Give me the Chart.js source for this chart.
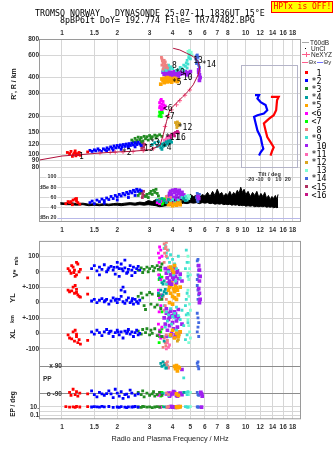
<!DOCTYPE html>
<html>
<head>
<meta charset="utf-8">
<script src="https://cdn.jsdelivr.net/npm/chart.js@4.4.1/dist/chart.umd.min.js"></script>
<style>
  body { margin:0; width:335px; height:451px; background:#fff; position:relative; overflow:hidden; }
  canvas { position:absolute; }
  .t { position:absolute; white-space:pre; line-height:1; transform:translate(0,-50%); color:#000; font-family:'Liberation Sans', sans-serif; }
  .mono { font-family:'DejaVu Sans Mono', monospace; }
  .rot { transform:translate(-50%,-50%) rotate(-90deg); font-weight:bold; color:#222; }
</style>
</head>
<body>
<canvas id="main" width="335" height="240" style="left:0px;top:0px"></canvas>
<canvas id="lower" width="335" height="219" style="left:0px;top:232px"></canvas>
<canvas id="tilt" width="75" height="127" style="left:230px;top:58px"></canvas>
<div class="t mono" style="left:35px;top:12.5px;font-size:8.3px">TROMSO NORWAY   DYNASONDE 25-07-11 1836UT 15°E</div>
<div class="t mono" style="left:60px;top:20.3px;font-size:8.3px">8pBP6It DoY= 192.774 File= TR747482.BPG</div>
<div style="position:absolute;left:271px;top:1px;width:60px;height:10px;background:#ffff00;border:1px solid #ff0000;"></div>
<div class="t mono" style="left:273.5px;top:7px;font-size:8px;color:#ff0000">HPTx is OFF!</div>
<script>
// axes
const freqTicks    = [1, 1.5, 2, 3, 4, 5, 6, 7, 8, 10, 12, 14, 16, 18];
const freqTicksMid = [1, 1.5, 2, 3, 4, 5, 6, 7, 8, 9, 10, 12, 14, 16, 18];
const heightTicks  = [80, 90, 100, 120, 150, 200, 300, 400, 600, 800];
const dbTicks      = [20, 40, 60, 80, 100];
const tiltTicks    = [-20, -10, 0, 10, 20];

// echo classes
const classNames  = [' 1','*2','*3','*4','*5','<6','<7',' 8','*9',' 10','*11','*12',' 13','*14','<15','<16'];
const classColors = ['#ff0000','#0000ff','#228b22','#00a0a0','#ffa500','#ff00ff','#00ff00','#f08080',
                     '#40e0d0','#a020f0','#ff69b4','#daa520','#7fffd4','#4169e1','#b03060','#c71585'];

// virtual range R' (MHz, km), one list per class: f, h, f, h ...
const heightPts = [
  [1.07,104, 1.1,102, 1.12,106, 1.15,100, 1.17,103, 1.19,98, 1.2,102, 1.22,100, 1.24,104, 1.26,99, 1.18,107, 1.14,97, 1.38,105],
  [1.42,108, 1.46,106, 1.5,109, 1.53,107, 1.57,111, 1.6,108, 1.64,106, 1.68,111, 1.72,109, 1.76,113, 1.8,110, 1.84,115, 1.88,112,
   1.92,117, 1.96,113, 2.0,118, 2.04,114, 2.08,119, 2.12,115, 2.16,120, 2.2,116, 2.24,121, 2.28,117, 2.32,122, 2.36,118, 2.4,123,
   2.45,119, 2.5,124, 2.55,120, 2.6,125, 2.65,121, 2.3,113, 2.5,115, 2.1,110, 1.9,108, 2.7,118, 1.75,107],
  [2.4,130, 2.45,126, 2.5,134, 2.55,129, 2.6,137, 2.65,131, 2.7,136, 2.75,128, 2.8,139, 2.85,133, 2.9,138, 2.95,130, 3.0,141,
   3.05,134, 3.1,138, 3.2,142, 3.25,135, 3.3,140, 3.4,143, 3.5,139, 2.55,123, 2.7,125],
  [3.1,120, 3.2,124, 3.3,116, 3.4,118, 3.45,113, 3.5,121, 3.55,116, 3.6,123, 3.65,118, 3.7,126, 3.75,121, 3.8,128, 3.85,123, 3.9,129, 3.5,110, 3.95,125, 3.35,126],
  [3.5,390, 3.55,380, 3.6,395, 3.65,375, 3.7,390, 3.75,370, 3.8,385, 3.85,395, 3.9,375, 4.0,390, 4.05,380, 4.1,395, 4.15,378, 4.2,388, 4.3,383, 3.75,400, 3.6,365, 3.45,355, 3.95,368, 4.25,372],
  [3.4,255, 3.45,265, 3.5,248, 3.55,260, 3.42,240, 3.5,235, 3.58,245, 3.62,232, 3.48,225, 3.55,228, 3.65,240, 3.4,232, 3.47,270],
  [3.4,215, 3.45,210, 3.5,220, 3.42,205, 3.52,212, 3.38,200, 3.47,198],
  [3.5,560, 3.52,540, 3.55,520, 3.5,500, 3.6,545, 3.62,510, 3.58,490, 3.68,480, 3.7,500, 3.75,475, 3.55,465, 3.65,530, 3.48,575],
  [3.6,470, 3.65,490, 3.7,455, 3.75,480, 3.8,500, 3.85,465, 3.9,485, 4.3,460, 4.4,480, 4.5,470, 4.6,500, 4.7,490, 4.75,520, 4.8,545,
   4.85,510, 4.9,570, 4.95,600, 5.0,560, 4.8,475, 4.6,455, 3.55,455, 4.2,455, 4.0,470],
  [3.55,440, 3.6,425, 3.65,450, 3.7,430, 3.75,415, 3.8,445, 3.85,425, 3.9,440, 3.95,420, 4.0,435, 4.05,415, 4.1,445, 4.15,425, 4.2,440,
   4.25,420, 4.3,435, 4.4,425, 4.5,440, 4.6,430, 4.7,445, 4.8,420, 4.9,435, 5.0,445, 3.7,405, 3.9,410, 4.1,405, 4.3,410, 3.6,465,
   3.8,470, 5.55,440, 5.6,420, 5.65,400, 5.6,380, 5.55,460],
  [3.6,130, 3.65,127, 3.7,133, 3.75,129, 3.8,134, 3.7,124],
  [4.15,178, 4.2,172, 4.25,180, 4.3,168, 4.35,175, 4.22,163],
  [4.85,640, 4.9,620, 4.95,650, 5.0,610, 5.05,630, 5.1,600, 4.9,590],
  [5.35,560, 5.4,590, 5.45,540, 5.5,575, 5.5,520, 5.55,500, 5.6,480, 5.45,600, 5.4,515],
  [2.7,118, 2.72,112, 2.75,122, 2.78,115, 2.8,109, 2.82,120, 2.76,126],
  [3.75,137, 3.85,140, 3.95,143, 4.05,146, 4.15,149, 4.25,152, 3.9,136, 4.1,140, 4.3,148]
];

// echo amplitude dBe
const ampPts = [
  [1.05,48, 1.1,50, 1.12,52, 1.15,55, 1.18,57, 1.2,53, 1.22,50, 1.25,47, 1.14,46, 1.08,52, 1.2,58],
  [1.42,50, 1.46,53, 1.5,48, 1.55,55, 1.6,52, 1.65,57, 1.7,54, 1.75,59, 1.8,56, 1.85,62, 1.9,58, 1.95,64, 2.0,61, 2.05,66, 2.1,63,
   2.15,68, 2.2,65, 2.25,70, 2.3,67, 2.35,72, 2.4,69, 2.45,74, 2.5,71, 2.55,76, 2.6,72, 2.65,75, 2.7,73, 1.7,49, 2.0,55, 2.3,60, 2.5,64],
  [2.85,62, 2.9,66, 2.95,60, 3.0,68, 3.05,72, 3.1,66, 3.15,74, 3.2,70, 3.25,76, 3.3,68, 3.35,63, 2.6,64, 2.65,68],
  [3.3,55, 3.4,52, 3.5,58, 3.6,54, 3.7,50, 3.8,56, 4.6,58, 4.7,54],
  [3.8,46, 3.9,48, 4.0,44, 4.1,47, 4.2,45, 4.3,49, 4.4,46],
  [3.3,50, 3.35,54, 3.4,48, 3.45,52],
  [3.4,56, 3.45,52, 3.5,54, 3.55,50, 3.6,57, 3.52,47],
  [3.7,62, 3.75,58, 3.8,55, 3.9,60],
  [3.9,52, 4.0,56, 4.1,50, 4.3,55, 4.5,60, 4.6,57, 4.7,62, 4.8,55, 3.7,60],
  [3.8,62, 3.85,68, 3.9,72, 3.95,66, 4.0,74, 4.05,60, 4.1,70, 4.15,75, 4.2,64, 4.25,72, 4.3,68, 4.35,74, 4.4,60, 4.45,66, 4.5,70,
   4.6,65, 3.9,58, 4.2,57, 5.5,62, 5.55,58],
  [3.6,56, 3.7,52, 3.75,58],
  [4.2,50, 4.3,47, 4.4,52],
  [4.75,60, 4.85,64, 4.9,58, 4.95,62],
  [5.4,60, 5.45,55, 5.5,64, 5.55,58, 5.6,66, 5.45,68, 5.5,52],
  [2.72,70, 2.75,66, 2.78,72, 2.8,64, 2.74,60],
  [3.9,54, 4.0,50]
];

// unclassified amplitude trace (top and bottom edge, dB)
const ampFreq   = [0.98,1.05,1.12,1.2,1.3,1.4,1.5,1.6,1.7,1.8, 1.9,2.0,2.1,2.2,2.35,2.5,2.65,2.8,2.95,3.1,
                   3.25,3.4,3.55,3.7,3.85,4.0,4.2,4.4,4.6,4.8, 5.0,5.2,5.4,5.6,5.8,6.0,6.2,6.4,6.6,6.8,
                   7.0,7.2,7.4,7.6,7.8,8.0,8.2,8.4,8.6,8.8, 9.0,9.2,9.4,9.6,9.8,10.0,10.3,10.6,10.9,11.2,
                   11.5,11.8,12.1,12.4,12.7,13.0,13.3,13.6,13.9,14.2, 14.5,14.8,15.0];
const ampTop    = [50,49,50,48,49,47,48,47,48,47, 48,49,48,49,50,49,51,50,54,52,
                   56,55,58,56,60,58,62,60,63,60, 66,62,64,60,66,63,70,62,72,64,
                   76,66,70,62,68,64,72,63,70,66, 74,68,80,70,76,66,72,62,70,64,
                   72,60,68,62,70,58,64,56,62,58, 64,56,66];
const ampBottom = [47,46,46,45,46,44,45,44,45,44, 45,45,44,45,46,45,46,45,46,45,
                   44,42,43,44,45,46,47,48,49,48, 50,49,50,48,50,49,50,48,49,47,
                   48,47,48,46,47,46,47,45,46,45, 46,44,45,44,45,43,44,43,44,42,
                   43,42,43,42,43,41,42,41,42,40, 41,40,41];

// plasma frequency profile NeXYZ
const neFreq   = [0.75, 1.0, 1.26, 1.61, 2.0, 2.35, 2.66, 3.01, 3.29, 3.42, 3.56, 3.71, 3.86, 4.2, 4.56, 4.86, 5.18, 5.51, 5.62, 5.51, 5.18, 4.76, 4.38, 4.03];
const neHeight = [90.7, 97.6, 100, 103, 105, 106, 107.5, 109.5, 115, 119, 143, 182, 224, 253, 285, 312, 351, 420, 474, 534, 584, 620, 657, 677];
const neMarkFreq   = [1.61, 1.83, 1.95, 2.15, 2.44, 2.77, 3.14, 3.64, 3.79, 3.95, 4.2, 4.38, 4.67, 4.96];
const neMarkHeight = [103, 104, 104.5, 105, 106, 107.5, 111, 166, 199, 224, 245, 264, 291, 320];

// echo class labels (text, MHz, km)
const echoLabels = [['1',1.24,96], ['*2',2.12,104], ['*3',3.01,124], ['15',2.8,110], ['*4',3.5,113], ['*11',3.64,135],
  ['16',4.19,135], ['*12',4.27,161], ['<6',3.55,227], ['<7',3.64,198], ['*5',3.97,362], ['10',4.55,397],
  ['*9',4.13,438], ['8',3.97,496], ['13',5.18,542], ['*14',5.76,505]];

// tilt profiles (deg, km)
const tiltXdeg = [2, 10.3, 8.6, 7.6, 5, -0.2, -3.7, -5.5, -3.7, -1.9, 1.6, 5, 3.4, 1.6];
const tiltXkm  = [283, 283, 267, 223, 204, 191, 181, 176, 155, 138, 126, 115, 108, 99];
const tiltYdeg = [-15, -10.7, -12.4, -9, -3.7, -1.9, -5.5, -12.4, -16, -14.2, -12.4, -9, -7.2, -6.1, -9, -10.7];
const tiltYkm  = [292, 292, 275, 258, 245, 223, 210, 204, 198, 175, 155, 138, 119, 112, 105, 99];

// velocity V* (m/s)
const velPts = [
  [1.08,20, 1.1,5, 1.12,-10, 1.15,30, 1.17,10, 1.2,-20, 1.22,50, 1.24,0, 1.18,-30, 1.26,15, 1.13,40, 1.38,-40, 1.2,60, 1.16,-5],
  [1.45,20, 1.5,40, 1.55,5, 1.6,30, 1.65,15, 1.7,45, 1.75,0, 1.8,25, 1.85,35, 1.9,10, 1.95,-15, 2.0,30, 2.05,20, 2.1,50, 2.15,5,
   2.2,25, 2.25,-10, 2.3,15, 2.35,40, 2.4,10, 2.45,30, 2.5,-5, 2.55,20, 2.6,35, 2.65,10, 2.0,60, 2.2,75, 1.6,-20, 2.4,-25, 2.05,-30,
   1.78,12, 1.92,28, 2.12,18, 2.28,-2],
  [2.6,10, 2.7,25, 2.75,-5, 2.8,15, 2.9,30, 2.95,0, 3.0,20, 3.1,35, 3.15,5, 3.2,25, 3.3,40, 3.35,15, 3.45,30, 3.5,50],
  [3.4,-40, 3.5,-70, 3.6,-60, 3.55,-80],
  [3.9,30, 4.0,10, 4.1,40, 4.05,-5],
  [3.35,120, 3.4,90, 3.45,140, 3.38,60, 3.42,30, 3.5,100, 3.36,-20, 3.45,-50, 3.4,160],
  [3.4,-20, 3.45,10, 3.38,-50, 3.5,-35],
  [3.6,180, 3.65,150, 3.7,190, 3.62,120, 3.68,160, 3.75,140, 3.7,100, 3.6,60, 3.8,30],
  [3.6,150, 3.65,170, 3.7,120, 3.75,90, 3.8,140, 3.85,60, 3.9,110, 3.95,30, 4.0,80, 4.05,-20, 4.1,50, 4.15,-60, 4.2,20, 4.3,100,
   4.4,-40, 3.7,-80, 3.8,0, 4.75,140, 4.8,60, 4.85,-30, 4.7,20],
  [3.65,20, 3.7,-10, 3.75,-40, 3.8,10, 3.85,-60, 3.9,-20, 3.95,-80, 4.0,0, 4.05,-50, 4.1,25, 4.15,-30, 4.2,-70, 4.25,5, 4.3,-45,
   4.4,-15, 4.5,-60, 3.8,-75, 4.0,-35, 4.2,-5, 5.6,10, 5.65,-30, 5.6,-60, 5.55,40],
  [3.7,-40, 3.75,-70],
  [3.95,20],
  [4.85,100, 4.9,60, 4.95,20, 5.0,-20, 4.9,-50, 4.85,-10],
  [5.45,70, 5.5,40, 5.55,10, 5.5,-20, 5.45,-50, 5.55,-30, 5.5,80],
  [],
  []
];

// YL (km)
const ylPts = [
  [1.08,80, 1.1,70, 1.15,100, 1.17,60, 1.2,85, 1.22,50, 1.24,40, 1.18,110, 1.26,35, 1.13,75, 1.38,55, 1.2,65],
  [1.45,10, 1.5,20, 1.55,0, 1.6,15, 1.65,25, 1.7,5, 1.75,20, 1.8,-10, 1.85,10, 1.9,30, 1.95,15, 2.0,0, 2.05,20, 2.1,40, 2.15,5,
   2.2,-5, 2.25,15, 2.3,30, 2.35,0, 2.4,10, 2.45,-10, 2.5,20, 2.55,5, 2.6,-5, 2.65,15, 2.1,80, 2.15,100, 2.2,70, 1.72,12, 1.98,22, 2.42,25],
  [2.6,40, 2.7,60, 2.75,30, 2.8,-20, 2.85,-45, 2.9,50, 3.0,65, 3.05,-10, 3.1,55, 3.2,-30, 3.3,-15, 3.35,45, 3.45,-40, 3.5,20],
  [3.35,60, 3.45,80, 3.55,50, 3.6,70, 3.7,60, 3.5,40, 3.65,85],
  [3.75,120, 3.8,80, 3.85,100, 3.9,60, 3.95,130, 4.0,40, 4.05,90, 4.1,70, 4.15,110, 4.2,20, 4.25,80, 4.3,50, 4.4,100, 3.85,0,
   4.0,-10, 3.9,110, 4.1,30, 4.2,95],
  [3.35,80, 3.4,30, 3.45,-20, 3.38,-60, 3.5,50],
  [3.4,20, 3.45,-30, 3.5,-60, 3.42,50],
  [3.55,40, 3.65,-20, 3.7,20],
  [3.6,-20, 3.7,-60, 3.8,-80, 3.9,-40, 4.0,-90, 4.1,-70, 4.2,-30, 4.3,-85, 4.5,-50, 4.7,-20, 4.8,60, 4.85,-70, 4.75,20],
  [3.7,-40, 3.8,-70, 3.9,-55, 4.0,-85, 4.1,-60, 4.2,-90, 4.3,-45, 3.85,-95, 4.15,-75, 5.6,60, 5.65,20, 5.55,90, 5.6,0],
  [3.6,-50],
  [],
  [4.85,80, 4.9,40, 4.95,-10, 5.0,-50, 4.9,-80],
  [5.45,110, 5.5,80, 5.55,50, 5.5,20],
  [],
  []
];

// XL (km)
const xlPts = [
  [1.08,-10, 1.1,-30, 1.15,10, 1.17,-50, 1.2,-20, 1.22,-60, 1.24,-40, 1.18,20, 1.26,-70, 1.13,-35, 1.38,-45, 1.2,-5],
  [1.45,10, 1.5,-5, 1.55,20, 1.6,5, 1.65,-15, 1.7,10, 1.75,25, 1.8,0, 1.85,15, 1.9,-20, 1.95,5, 2.0,20, 2.05,-10, 2.1,10, 2.15,-30,
   2.2,15, 2.25,0, 2.3,25, 2.35,-5, 2.4,10, 2.45,-20, 2.5,5, 2.55,20, 2.6,-10, 2.65,0, 1.82,12, 2.02,8, 2.28,14],
  [2.6,15, 2.7,-5, 2.75,25, 2.85,5, 2.9,30, 3.0,-10, 3.05,20, 3.1,0, 3.2,30, 3.3,-15, 3.4,10, 3.5,-20],
  [3.5,-20, 3.6,-50],
  [3.9,-10, 4.0,20, 4.1,-30, 4.2,0, 4.3,-20, 4.4,10],
  [3.35,60, 3.4,20, 3.45,-30, 3.5,40, 3.38,-10],
  [3.4,-20, 3.45,10, 3.38,-60, 3.5,30],
  [3.6,-30, 3.65,-60, 3.7,-10, 3.55,-90, 3.75,-45, 3.68,-80],
  [3.65,40, 3.75,80, 3.85,-20, 3.95,60, 4.1,100, 4.2,20, 4.4,90, 4.6,50, 4.75,120, 4.8,-10, 4.85,70, 4.7,-40],
  [3.6,100, 3.65,60, 3.7,130, 3.75,20, 3.8,90, 3.85,50, 3.9,110, 3.95,0, 4.0,70, 4.05,30, 4.1,120, 4.15,-10, 4.2,80, 4.25,40,
   4.3,100, 4.4,10, 4.5,60, 3.7,-20, 3.9,-15, 4.1,-25],
  [3.75,-60, 3.8,-90, 3.7,-100, 3.85,-75],
  [4.2,-20, 4.3,-40, 4.35,-10, 4.25,-50],
  [4.85,90, 4.9,50, 4.95,10, 5.0,-30, 4.9,-60],
  [5.45,130, 5.5,100, 5.55,70, 5.5,40, 5.45,10, 5.55,-20],
  [],
  []
];

// polarization PP (deg)
const ppPts = [
  [1.1,-80, 1.15,-60, 1.18,-95, 1.2,-75, 1.22,-105, 1.25,-85, 1.12,-100, 1.38,-90],
  [1.45,-70, 1.5,-95, 1.55,-110, 1.6,-80, 1.7,-100, 1.8,-70, 1.85,-90, 1.9,-115, 2.0,-85, 2.05,-105, 2.1,-75, 2.2,-95, 2.3,-110,
   2.4,-85, 2.5,-100, 2.6,-90, 1.65,-90, 1.95,-60, 2.15,-120, 2.35,-65, 1.75,-88, 2.25,-92],
  [2.6,-80, 2.7,-95, 2.8,-110, 2.9,-85, 3.0,-100, 3.1,-90, 3.2,-105, 3.3,-95, 3.4,-80, 3.5,-100, 2.75,-70, 3.15,-75],
  [3.45,110, 3.5,90, 3.55,120, 3.6,100, 3.7,80, 4.6,-80, 3.52,-90],
  [4.1,90, 4.15,75, 4.2,95, 4.3,85, 4.25,60, 4.35,80, 4.2,-90, 4.3,-100],
  [3.4,-80, 3.45,-95, 3.35,-100],
  [3.42,-90, 3.5,-80, 3.45,-105],
  [3.7,100, 3.75,120, 3.8,85, 3.65,110, 3.7,-85, 3.8,-95],
  [3.6,95, 3.65,80, 3.7,110, 3.75,90, 3.6,-85, 3.8,-100, 4.7,-80, 4.8,-95, 4.85,-75, 4.6,15],
  [3.7,-90, 3.8,-85, 3.9,-95, 4.0,-90, 4.1,-80, 4.2,-100, 4.3,-90, 4.4,-85, 4.5,-95, 3.85,-105, 4.05,-75, 4.25,-105, 5.75,-90,
   5.8,-105, 5.7,-80, 4.5,70],
  [3.75,95, 3.8,80, 3.75,-90, 3.9,-80],
  [],
  [4.8,-85, 4.9,-95, 5.0,-80],
  [5.45,110, 5.5,90, 5.55,75, 5.5,120, 5.45,-80, 5.5,-95, 5.55,-100],
  [],
  []
];

// EP (deg)
const epPts = [
  [1.05,12, 1.1,9, 1.15,11, 1.2,13, 1.25,10, 1.38,12, 1.18,8],
  [1.45,10, 1.5,12, 1.6,9, 1.7,11, 1.8,13, 1.9,8, 2.0,10, 2.1,12, 2.2,9, 2.3,11, 2.4,10, 2.5,13, 2.6,9, 1.55,11, 2.05,8, 1.65,14,
   2.25,7, 2.45,11],
  [2.6,10, 2.7,8, 2.8,12, 2.9,9, 3.0,11, 3.1,7, 3.2,10, 3.3,12, 3.4,9, 2.75,13],
  [3.6,11],
  [4.2,11, 4.3,9, 4.4,12, 4.25,8],
  [3.4,11, 3.45,9],
  [3.45,10, 3.5,12],
  [3.7,10, 3.8,12, 3.75,8],
  [3.7,9, 4.7,12, 4.8,10, 4.85,9],
  [3.8,10, 3.9,12, 4.0,9, 4.1,11, 4.2,10, 4.3,12, 5.75,9, 3.95,13, 4.15,8],
  [3.8,9],
  [4.35,11, 4.4,9],
  [4.9,10, 5.0,12],
  [5.45,11, 5.5,10, 5.55,9],
  [],
  []
];

// ---- styles ----
const gridColor = '#d6d6d6';
const tickFont  = {family: 'Liberation Sans', size: 6.5, weight: 'bold'};
const tickColor = '#333';
const dotSize   = [2, 2, 2, 2, 2.6, 2, 2, 2, 2, 2.6, 2, 2, 2, 2, 2, 2];

const pts = a => { const r = []; for (let i = 0; i < a.length; i += 2) r.push({x: a[i], y: a[i + 1]}); return r; };
const zip = (xs, ys) => xs.map((v, i) => ({x: v, y: ys[i]}));

function dotSets(list, yAxisID) {
  return list.map((a, i) => ({
    type: 'scatter', data: pts(a), yAxisID, backgroundColor: classColors[i], borderWidth: 0,
    pointStyle: 'rect', pointRadius: dotSize[i], pointBorderWidth: 0, order: 2
  })).filter(d => d.data.length);
}

function setTicks(list) {
  return s => { s.ticks = list.map(v => ({value: v})); };
}

function freqAxis(position, ticks, pad, gridOn) {
  return {
    type: 'logarithmic', position, min: 0.75, max: 20, bounds: 'data',
    afterBuildTicks: setTicks(ticks),
    ticks: {autoSkip: false, maxRotation: 0, padding: pad, color: tickColor, font: tickFont, callback: v => String(v)},
    grid: {display: gridOn, drawTicks: false, color: c => (c.tick && c.tick.value === 9) ? 'rgba(0,0,0,0)' : gridColor},
    border: {display: false}
  };
}

// y axis anchored at a frequency (labels right-aligned just left of it)
function yAxis(type, min, max, ticks, labels, at, pad, extra) {
  return Object.assign({
    type, position: {x: at}, min, max, bounds: 'data',
    afterBuildTicks: setTicks(ticks),
    ticks: {autoSkip: false, padding: pad, color: tickColor, font: tickFont, callback: v => labels[ticks.indexOf(v)]},
    grid: {color: gridColor, drawTicks: false}, border: {display: false}
  }, extra || {});
}

const frame = {
  id: 'frame',
  afterDraw(chart, args, opts) {
    const {ctx, chartArea: a} = chart;
    ctx.save();
    ctx.strokeStyle = opts.color || '#999';
    ctx.lineWidth = 1;
    ctx.strokeRect(a.left + 0.5, a.top + 0.5, a.right - a.left - 1, a.bottom - a.top - 1);
    ctx.restore();
  }
};

const echoText = {
  id: 'echoText',
  afterDatasetsDraw(chart) {
    const {ctx, scales: {x, y}} = chart;
    ctx.save();
    ctx.font = '8px "DejaVu Sans Mono"';
    ctx.fillStyle = '#000';
    ctx.textBaseline = 'middle';
    echoLabels.forEach(([t, f, h]) => ctx.fillText(t, x.getPixelForValue(f), y.getPixelForValue(h)));
    ctx.restore();
  }
};

const common = {
  responsive: false, animation: false,
  plugins: {legend: {display: false}, tooltip: {enabled: false}, frame: {color: '#9a9a9a'}}
};

// ---- top panel: height + amplitude ----
new Chart(document.getElementById('main'), {
  type: 'scatter',
  plugins: [frame, echoText],
  data: {
    datasets: [
      {type: 'line', data: zip(neFreq, neHeight), yAxisID: 'y', borderColor: '#b0103c', borderWidth: 1,
       pointRadius: 0, fill: false, tension: 0, order: 0},
      {type: 'scatter', data: zip(neMarkFreq, neMarkHeight), yAxisID: 'y', borderColor: '#ff5c8a', borderWidth: 1,
       pointStyle: 'cross', pointRadius: 2.2, pointBorderWidth: 1, order: 0},
      ...dotSets(heightPts, 'y'),
      ...dotSets(ampPts, 'yDb'),
      {type: 'line', data: zip(ampFreq, ampTop), yAxisID: 'yDb', borderColor: '#000', backgroundColor: '#000',
       borderWidth: 1, pointRadius: 0, tension: 0, fill: '+1', order: 10},
      {type: 'line', data: zip(ampFreq, ampBottom), yAxisID: 'yDb', borderColor: '#000', borderWidth: 1,
       pointRadius: 0, tension: 0, fill: false, order: 10}
    ]
  },
  options: {
    ...common,
    layout: {padding: {left: 39, right: 34, top: 0, bottom: 0}},
    scales: {
      xTop: Object.assign(freqAxis('top', freqTicks, 2, false), {afterFit: s => { s.height = 39; }}),
      x: Object.assign(freqAxis('bottom', freqTicksMid, 4, true), {afterFit: s => { s.height = 18; }}),
      y: yAxis('logarithmic', 29.8, 800, heightTicks, heightTicks.map(String), 0.75, 3.5),
      yDb: yAxis('linear', 12.2, 369.3, dbTicks, ['dBn 20', '40', '60', 'dBe 80', '100'], 0.932, 0.5, {
        ticks: {autoSkip: false, padding: 0.5, color: tickColor, font: {family: 'Liberation Sans', size: 5.3, weight: 'bold'},
                callback: v => ['dBn 20', '40', '60', 'dBe 80', '100'][dbTicks.indexOf(v)],
                showLabelBackdrop: true, backdropColor: '#fff', backdropPadding: 1},
        grid: {color: c => (c.tick && c.tick.value === 20) ? '#b8b8e8' : gridColor, drawTicks: false}
      })
    }
  }
});

// ---- lower panel: V*, YL, XL, PP, EP ----
new Chart(document.getElementById('lower'), {
  type: 'scatter',
  plugins: [frame],
  data: {
    datasets: [
      ...dotSets(velPts, 'yV'),
      ...dotSets(ylPts, 'yYL'),
      ...dotSets(xlPts, 'yXL'),
      ...dotSets(ppPts, 'yPP'),
      ...dotSets(epPts, 'yEP')
    ]
  },
  options: {
    ...common,
    layout: {padding: {left: 39, right: 34, top: 5, bottom: 0}},
    scales: {
      x: Object.assign(freqAxis('bottom', freqTicks, 4, true), {
        afterFit: s => { s.height = 31.7; },
        title: {display: true, text: 'Radio and Plasma Frequency / MHz', color: '#222',
                font: {family: 'Liberation Sans', size: 7.3}, padding: {top: 0, bottom: 7.6}}
      }),
      yV:  yAxis('linear', -954.4, 199.4, [100, 0, -100], ['100', '0', '+-100'], 0.75, 5),
      yYL: yAxis('linear', -755.1, 398.7, [0, -100], ['0', '+-100'], 0.75, 5),
      yXL: yAxis('linear', -555.7, 598.1, [0, -100], ['0', '-100'], 0.75, 5),
      yPP: yAxis('linear', -257.1, 914.5, [90, -90], ['x 90', 'o -90'], 1.0, 0, {
        grid: {color: '#8c8c8c', drawTicks: false}
      }),
      yEP: yAxis('logarithmic', 0.01175, 2.92e40, [0.1, 1, 10], ['0.1', '', '10.'], 0.75, 5)
    }
  }
});

// ---- tilt inset ----
new Chart(document.getElementById('tilt'), {
  type: 'scatter',
  plugins: [frame],
  data: {
    datasets: [
      {data: zip(tiltXdeg, tiltXkm), showLine: true, borderColor: '#ff0000', borderWidth: 2.2, pointRadius: 0, tension: 0},
      {data: zip(tiltYdeg, tiltYkm), showLine: true, borderColor: '#0000ff', borderWidth: 2.2, pointRadius: 0, tension: 0}
    ]
  },
  options: {
    ...common,
    plugins: {legend: {display: false}, tooltip: {enabled: false}, frame: {color: '#b4b4c8'}},
    layout: {padding: {left: 11, right: 7, top: 7, bottom: 0}},
    scales: {
      x: {
        type: 'linear', min: -30, max: 31, bounds: 'data',
        afterBuildTicks: setTicks(tiltTicks), afterFit: s => { s.height = 17; },
        ticks: {autoSkip: false, maxRotation: 0, padding: 0, color: tickColor,
                font: {family: 'Liberation Sans', size: 5.5, weight: 'bold'}},
        grid: {display: false}, border: {display: false},
        title: {display: true, text: 'Tilt / deg', color: tickColor,
                font: {family: 'Liberation Sans', size: 5.5, weight: 'bold'}, padding: {top: 0, bottom: 7}}
      },
      y: {type: 'logarithmic', min: 79.3, max: 501, display: false}
    }
  }
});

// ---- text around the plots ----
function addText(txt, x, y, css, cls) {
  const d = document.createElement('div');
  d.className = cls || 't';
  d.textContent = txt;
  d.style.left = x + 'px';
  d.style.top = y + 'px';
  Object.assign(d.style, css || {});
  document.body.appendChild(d);
  return d;
}
function addBox(x, y, w, h, color) {
  const d = document.createElement('div');
  Object.assign(d.style, {position: 'absolute', left: x + 'px', top: y + 'px', width: w + 'px', height: h + 'px', background: color});
  document.body.appendChild(d);
}

// rotated axis names
addText("R', R / km", 13, 84, {fontSize: '7px'}, 't rot');
const vlab = addText('', 13, 267, {}, 't rot');
vlab.innerHTML = '<span style="font-size:7.5px">V*</span> <span style="font-size:5px">m/s</span>';
addText('YL', 13, 298, {fontSize: '7.5px'}, 't rot');
addText('km', 13, 319, {fontSize: '5.5px'}, 't rot');
addText('XL', 13, 334, {fontSize: '7.5px'}, 't rot');
addText('EP / deg', 13, 404, {fontSize: '6.5px'}, 't rot');
addText('PP', 43, 379, {fontSize: '6.5px', fontWeight: 'bold', color: '#333'});

// legend
addBox(302, 41.5, 7, 1.5, '#a8a8a8');
addText('T60dB', 310, 42.5, {fontSize: '6.5px', color: '#222'});
addBox(304.5, 47.5, 1.5, 1.5, '#000');
addText('UnCl', 311, 48.5, {fontSize: '6.5px', color: '#222'});
addBox(302, 54, 8, 1, '#ff5c8a');
addBox(305.5, 51.5, 1, 5, '#ff5c8a');
addText('NeXYZ', 311, 54.5, {fontSize: '6.5px', color: '#222'});
addBox(302, 61.5, 6, 1, '#ff5c8a');
addText('\u0398x', 308.5, 62, {fontSize: '6px', color: '#222'});
addBox(317, 61.5, 6, 1, '#7070ff');
addText('\u0398y', 323.5, 62, {fontSize: '6px', color: '#222'});
classNames.forEach((n, i) => {
  const y = 72.7 + i * 8.13;
  addBox(305.3, y - 1.5, 3, 3, classColors[i]);
  addText(n, 311.5, y, {fontSize: '8.3px'}, 't mono');
});
</script>
</body>
</html>
